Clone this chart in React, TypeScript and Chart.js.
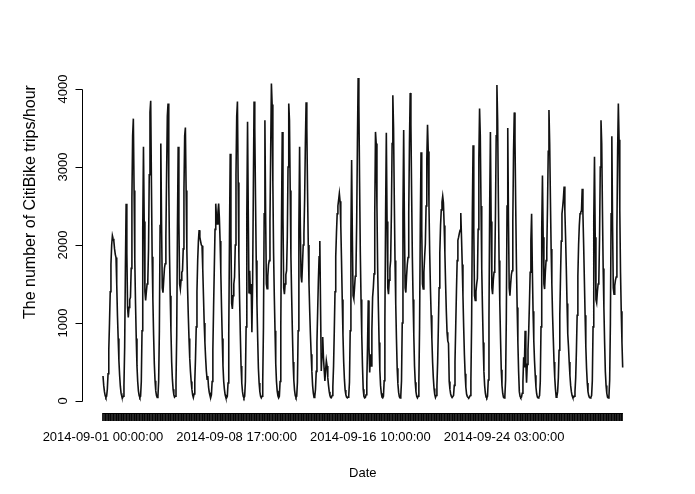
import React, { useEffect, useRef } from 'react';
import { Chart, registerables } from 'chart.js';

Chart.register(...registerables);

// Hourly CitiBike trips, September 2014 (one array of 24 hourly values per day)
const sep01 = [320, 200, 120, 70, 45, 60, 150, 350, 650, 1000, 1400, 1750, 2000, 2120, 2080, 2050, 1950, 1880, 1840, 1500, 1100, 800, 520, 330];
const sep02 = [190, 100, 60, 40, 60, 200, 700, 1700, 2530, 1900, 1200, 1070, 1200, 1300, 1330, 1700, 2600, 3400, 3620, 2700, 1800, 1250, 800, 450];
const sep03 = [250, 130, 70, 45, 60, 250, 900, 2200, 3260, 2300, 1400, 1290, 1400, 1500, 1540, 1950, 2900, 3700, 3850, 2800, 1850, 1300, 850, 480];
const sep04 = [260, 130, 70, 45, 60, 250, 900, 2250, 3300, 2300, 1450, 1390, 1550, 1700, 1760, 2100, 2900, 3650, 3815, 2800, 1900, 1350, 900, 500];
const sep05 = [280, 150, 80, 50, 60, 230, 850, 2200, 3260, 2300, 1500, 1435, 1550, 1650, 1670, 1950, 2700, 3400, 3505, 2700, 1950, 1450, 1100, 800];
const sep06 = [550, 380, 250, 150, 80, 45, 90, 250, 550, 950, 1400, 1800, 2050, 2190, 2100, 2050, 2000, 1990, 1700, 1350, 1000, 750, 550, 385];
const sep07 = [280, 320, 180, 110, 70, 45, 80, 250, 650, 1200, 1700, 2200, 2530, 2350, 2270, 2420, 2530, 2350, 2050, 1650, 1200, 800, 450, 250];
const sep08 = [150, 80, 45, 40, 60, 230, 850, 2100, 3170, 2100, 1250, 1180, 1350, 1500, 1590, 2000, 2900, 3650, 3840, 2800, 1850, 1300, 850, 450];
const sep09 = [230, 120, 60, 40, 60, 250, 950, 2400, 3580, 2400, 1390, 1670, 1370, 1500, 880, 1500, 2700, 3840, 3500, 2600, 1800, 1250, 800, 420];
const sep10 = [230, 120, 60, 40, 60, 250, 950, 2400, 3600, 2400, 1500, 1440, 1600, 1750, 1800, 2300, 3200, 4070, 3800, 2800, 1900, 1350, 900, 480];
const sep11 = [250, 130, 65, 40, 60, 250, 950, 2350, 3450, 2350, 1450, 1370, 1500, 1620, 1670, 2100, 3000, 3815, 3600, 2700, 1850, 1350, 900, 500];
const sep12 = [270, 140, 70, 45, 60, 240, 900, 2200, 3260, 2250, 1600, 1520, 1750, 2000, 2140, 2600, 3300, 3830, 3500, 2700, 2000, 1500, 1150, 850];
const sep13 = [600, 380, 200, 100, 45, 60, 150, 380, 750, 1150, 1550, 1850, 2050, 1200, 385, 600, 820, 560, 400, 257, 400, 515, 450, 300];
const sep14 = [200, 120, 70, 45, 42, 70, 180, 450, 900, 1400, 1850, 2150, 2400, 2500, 2580, 2660, 2560, 2250, 1800, 1300, 850, 500, 280, 140];
const sep15 = [80, 50, 40, 50, 70, 240, 900, 2100, 3090, 2100, 1350, 1310, 1450, 1600, 1670, 2300, 3300, 4140, 3800, 2800, 1900, 1300, 850, 450];
const sep16 = [150, 60, 40, 45, 80, 250, 700, 1290, 700, 365, 600, 450, 900, 1330, 1450, 1630, 2400, 3450, 3300, 2500, 1700, 1200, 750, 400];
const sep17 = [200, 100, 50, 40, 60, 260, 1000, 2400, 3440, 2300, 1450, 1370, 1550, 1700, 1800, 2400, 3300, 3920, 3500, 2600, 1800, 1250, 800, 420];
const sep18 = [220, 110, 55, 40, 60, 260, 1000, 2400, 3475, 2300, 1450, 1390, 1600, 1750, 1840, 2400, 3300, 3950, 3550, 2650, 1850, 1300, 850, 450];
const sep19 = [240, 120, 60, 40, 60, 240, 950, 2250, 3190, 2200, 1500, 1435, 1650, 1850, 2015, 2500, 3100, 3540, 3200, 2500, 1900, 1450, 1100, 800];
const sep20 = [500, 300, 160, 80, 45, 70, 200, 500, 950, 1450, 1900, 2250, 2450, 2550, 2625, 2540, 2250, 1900, 1500, 1150, 880, 770, 740, 250];
const sep21 = [150, 90, 60, 45, 45, 70, 200, 500, 950, 1400, 1800, 2060, 2100, 2150, 2190, 2410, 2100, 1750, 1350, 950, 600, 350, 180, 90];
const sep22 = [60, 45, 40, 50, 70, 260, 1000, 2400, 3280, 2200, 1350, 1290, 1400, 1500, 1570, 2200, 3100, 3750, 3400, 2500, 1700, 1200, 750, 380];
const sep23 = [200, 100, 50, 40, 60, 270, 1050, 2500, 3450, 2300, 1450, 1370, 1550, 1650, 1715, 2400, 3400, 4050, 3600, 2600, 1800, 1250, 800, 400];
const sep24 = [200, 100, 50, 40, 60, 270, 1050, 2500, 3500, 2300, 1450, 1350, 1500, 1620, 1670, 2300, 3200, 3700, 3350, 2500, 1750, 1200, 750, 380];
const sep25 = [120, 60, 42, 50, 100, 250, 560, 430, 900, 500, 235, 470, 650, 900, 1250, 1650, 2050, 2400, 1700, 1150, 780, 520, 330, 180];
const sep26 = [90, 50, 40, 50, 70, 250, 950, 2200, 2890, 2100, 1500, 1435, 1650, 1800, 1930, 2500, 3200, 3730, 3300, 2600, 1950, 1500, 1100, 800];
const sep27 = [500, 300, 150, 50, 60, 120, 300, 650, 1100, 1600, 2050, 2400, 2490, 2600, 2750, 2440, 2100, 1700, 1250, 860, 700, 500, 330, 200];
const sep28 = [120, 70, 45, 45, 60, 120, 300, 650, 1100, 1600, 2000, 2250, 2400, 2420, 2440, 2720, 2400, 2000, 1550, 1100, 700, 420, 230, 120];
const sep29 = [70, 45, 40, 50, 70, 260, 950, 2300, 3130, 2100, 1300, 1260, 1400, 1500, 1540, 2100, 3000, 3600, 3300, 2450, 1700, 1200, 750, 380];
const sep30 = [200, 100, 50, 40, 60, 270, 1000, 2400, 3395, 2250, 1450, 1370, 1480, 1550, 1590, 2200, 3200, 3815, 3350, 2450, 1650, 1150, 750, 430];

const days = [
  sep01, sep02, sep03, sep04, sep05, sep06, sep07, sep08, sep09, sep10,
  sep11, sep12, sep13, sep14, sep15, sep16, sep17, sep18, sep19, sep20,
  sep21, sep22, sep23, sep24, sep25, sep26, sep27, sep28, sep29, sep30,
];
const tripsPerHour: number[] = days.flat();
const hourIndex: number[] = tripsPerHour.map((_, i) => i);

const xTickIndex = [0, 185, 370, 555];
const xTickLabels = ['2014-09-01 00:00:00', '2014-09-08 17:00:00', '2014-09-16 10:00:00', '2014-09-24 03:00:00'];
const yTicks = [0, 1000, 2000, 3000, 4000];
const xTitle = 'Date';
const yTitle = 'The number of CitiBike trips/hour';

const FONT = '"Liberation Sans", Arial, Helvetica, sans-serif';

const rAxes = {
  id: 'rAxes',
  afterDraw(chart: any) {
    const { ctx, chartArea, scales } = chart;
    const ys = scales.y;
    const xs = scales.x;
    ctx.save();
    ctx.strokeStyle = '#000';
    ctx.lineWidth = 1;
    const xl = Math.round(chartArea.left) + 0.5;
    const yA = Math.round(ys.getPixelForValue(yTicks[0])) + 0.5;
    const yB = Math.round(ys.getPixelForValue(yTicks[yTicks.length - 1])) + 0.5;
    ctx.beginPath();
    ctx.moveTo(xl, yA);
    ctx.lineTo(xl, yB);
    yTicks.forEach((v) => {
      const p = Math.round(ys.getPixelForValue(v)) + 0.5;
      ctx.moveTo(xl, p);
      ctx.lineTo(xl - 7, p);
    });
    const yb = Math.round(chartArea.bottom) + 0.5;
    ctx.moveTo(xs.getPixelForValue(hourIndex[0]), yb);
    ctx.lineTo(xs.getPixelForValue(hourIndex[hourIndex.length - 1]), yb);
    ctx.stroke();

    ctx.fillStyle = '#000';
    ctx.textAlign = 'center';
    ctx.textBaseline = 'middle';
    ctx.font = `13px ${FONT}`;
    yTicks.forEach((v) => {
      const p = ys.getPixelForValue(v);
      ctx.save();
      ctx.translate(63, p);
      ctx.rotate(-Math.PI / 2);
      ctx.fillText(String(v), 0, 0);
      ctx.restore();
    });
    ctx.font = `13px ${FONT}`;
    ctx.fillText(xTitle, (chartArea.left + chartArea.right) / 2, 473);
    ctx.save();
    ctx.font = `16px ${FONT}`;
    ctx.translate(31, 202);
    ctx.rotate(-Math.PI / 2);
    ctx.fillText(yTitle, 0, 0);
    ctx.restore();
    ctx.restore();
  },
};

export default function App() {
  const ref = useRef<HTMLCanvasElement | null>(null);
  useEffect(() => {
    const canvas = ref.current;
    if (!canvas) return;
    const chart = new Chart(canvas, {
      type: 'line',
      data: {
        datasets: [
          {
            data: tripsPerHour.map((v, i) => ({ x: hourIndex[i], y: v })),
            borderColor: '#111',
            borderWidth: 1.6,
            pointRadius: 0,
            tension: 0,
            fill: false,
          },
        ],
      },
      options: {
        animation: false,
        responsive: false,
        devicePixelRatio: 1,
        events: [],
        layout: { padding: { left: 82, right: 51.5, top: 64.5, bottom: 0 } },
        plugins: { legend: { display: false }, tooltip: { enabled: false } },
        scales: {
          x: {
            type: 'linear',
            min: -29.05,
            max: 747.8,
            afterBuildTicks: (s: any) => {
              s.ticks = hourIndex.map((v) => ({ value: v }));
            },
            afterFit: (s: any) => {
              s.height = 81;
            },
            grid: {
              display: true,
              drawOnChartArea: false,
              drawTicks: true,
              tickLength: 8,
              color: 'rgba(0,0,0,0.85)',
              lineWidth: 1,
            },
            border: { display: false },
            ticks: {
              autoSkip: false,
              maxRotation: 0,
              minRotation: 0,
              padding: 9,
              color: '#000',
              font: { family: FONT, size: 13 },
              callback: (v: any) => {
                const k = xTickIndex.indexOf(Number(v));
                return k >= 0 ? xTickLabels[k] : '';
              },
            },
          },
          y: {
            type: 'linear',
            display: false,
            min: -153.8,
            max: 4314,
          },
        },
      },
      plugins: [rAxes],
    });
    return () => chart.destroy();
  }, []);
  return (
    <div style={{ position: 'absolute', left: 0, top: 0, width: 695, height: 494, background: '#fff' }}>
      <canvas ref={ref} width={695} height={494} style={{ display: 'block' }} />
    </div>
  );
}
